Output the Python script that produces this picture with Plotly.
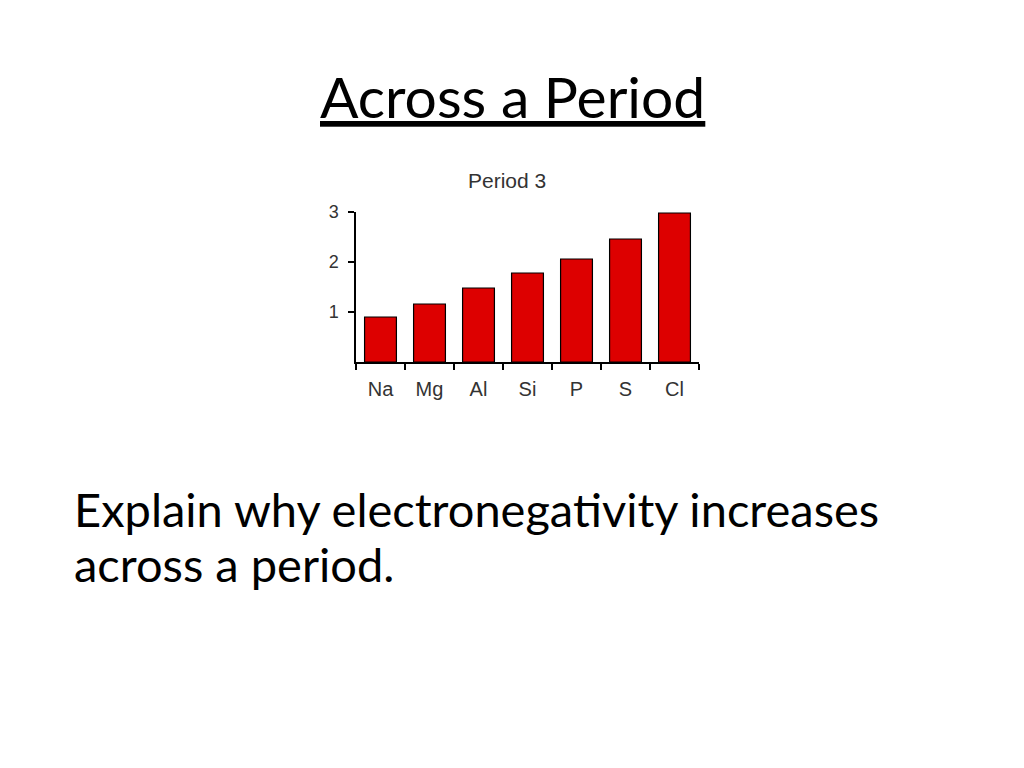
import plotly.graph_objects as go

# electronegativity
elements = ["Na", "Mg", "Al", "Si", "P", "S", "Cl"]
electroneg = [0.90, 1.16, 1.48, 1.78, 2.06, 2.46, 2.98]
y_ticks = [1, 2, 3]

slide_title = "Across a Period"
chart_title = "Period 3"
question_lines = ["Explain why electronegativity increases", "across a period."]

# the page body has an 8px margin, so the figure is 8px smaller each side
OFF = 8
FIG_W, FIG_H = 1024 - 2 * OFF, 768 - 2 * OFF
# plot area in page pixels: x 356..699, y 212..362
L, R = 356 - OFF, FIG_W - (699 - OFF)
T, B = 212 - OFF, FIG_H - (362 - OFF)
W_PLOT, H_PLOT = FIG_W - L - R, FIG_H - T - B


def px_to_paper(x, y):
    # page pixel -> paper coords
    return (x - OFF - L) / W_PLOT, (FIG_H - B - (y - OFF)) / H_PLOT


fig = go.Figure(
    go.Bar(
        x=elements,
        y=electroneg,
        marker={"color": "#dd0000", "line": {"color": "#000000", "width": 1.2}},
    )
)

tick_font = {"family": "Liberation Sans", "color": "#333333"}
fig.update_xaxes(
    showline=True,
    linecolor="#000000",
    linewidth=1.5,
    ticks="outside",
    tickson="boundaries",
    ticklen=6,
    tickwidth=1.5,
    tickcolor="#000000",
    showgrid=False,
    ticklabelstandoff=8,
    tickfont={**tick_font, "size": 20},
)
fig.update_yaxes(
    range=[0, 3],
    tickvals=y_ticks,
    showline=True,
    linecolor="#000000",
    linewidth=1.5,
    ticks="outside",
    ticklen=6,
    tickwidth=1.5,
    tickcolor="#000000",
    showgrid=False,
    zeroline=False,
    ticklabelstandoff=6,
    tickfont={**tick_font, "size": 18},
)

tx, ty = px_to_paper(512, 95.5)
fig.add_annotation(
    x=tx, y=ty, xref="paper", yref="paper", text=f"<u>{slide_title}</u>",
    showarrow=False, xanchor="center", yanchor="middle",
    font={"family": "Lato", "size": 57, "color": "#000000"},
)
cx, cy = px_to_paper(507, 180)
fig.add_annotation(
    x=cx, y=cy, xref="paper", yref="paper", text=chart_title,
    showarrow=False, xanchor="center", yanchor="middle",
    font={**tick_font, "size": 21},
)
for i, line in enumerate(question_lines):
    qx, qy = px_to_paper(72, 509 + 55 * i)
    fig.add_annotation(
        x=qx, y=qy, xref="paper", yref="paper", text=line,
        showarrow=False, xanchor="left", yanchor="middle", align="left",
        font={"family": "Lato", "size": 47, "color": "#000000"},
    )

fig.update_layout(
    width=FIG_W,
    height=FIG_H,
    autosize=False,
    bargap=0.35,
    showlegend=False,
    plot_bgcolor="#ffffff",
    paper_bgcolor="#ffffff",
    margin={"l": L, "r": R, "t": T, "b": B, "pad": 0},
)

fig.write_html("out.html")
